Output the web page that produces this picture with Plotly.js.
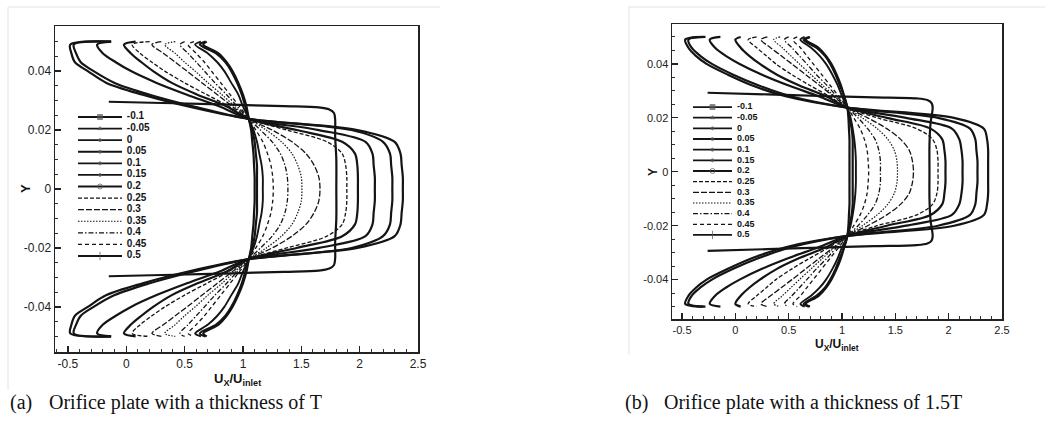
<!DOCTYPE html>
<html>
<head>
<meta charset="utf-8">
<script src="https://cdn.plot.ly/plotly-3.0.1.min.js"></script>
<style>
  html, body { margin: 0; padding: 0; background: #fff; }
  #chart { width: 1061px; height: 423px; }
</style>
</head>
<body>
<div id="chart"></div>
<script>
// Axial velocity profiles U_X/U_inlet across the pipe (Y) at several stations.
const SERIES_NAMES = ['-0.1', '-0.05', '0', '0.05', '0.1', '0.15', '0.2', '0.25', '0.3', '0.35', '0.4', '0.45', '0.5'];

const X_TICKS = [-0.5, 0, 0.5, 1, 1.5, 2, 2.5];
const X_TICK_TEXT = ['-0.5', '0', '0.5', '1', '1.5', '2', '2.5'];
const Y_TICKS = [-0.04, -0.02, 0, 0.02, 0.04];
const Y_TICK_TEXT = ['-0.04', '-0.02', '0', '0.02', '0.04'];

// Sampling positions across the pipe (shared by all full-width profiles)
const Y_GRID = [0.05, 0.049, 0.046, 0.043, 0.04, 0.036, 0.032, 0.028, 0.0238, 0.02, 0.016, 0.012, 0.008, 0.004, 0,
  -0.004, -0.008, -0.012, -0.016, -0.02, -0.0238, -0.028, -0.032, -0.036, -0.04, -0.043, -0.046, -0.049, -0.05];

// ---- (a) plate thickness T ----
const A_N010 = [0.69,0.66,0.79,0.86,0.91,0.96,1.0,1.03,1.05,1.07,1.08,1.09,1.095,1.1,1.1,1.1,1.095,1.09,1.08,1.07,1.05,1.03,1.0,0.96,0.91,0.86,0.79,0.66,0.69];
const A_N005 = [0.68,0.63,0.77,0.85,0.9,0.95,0.99,1.02,1.05,1.08,1.1,1.11,1.12,1.12,1.12,1.12,1.12,1.11,1.1,1.08,1.05,1.02,0.99,0.95,0.9,0.85,0.77,0.63,0.68];
const A_PLUG_Y = [0.0296,0.0291,0.0286,0.0281,0.0277,0.027,0.0258,0.0235,0.018,0.01,0,-0.01,-0.018,-0.0235,-0.0258,-0.027,-0.0277,-0.0281,-0.0286,-0.0291,-0.0296];
const A_P000 = [-0.15,0.4,0.9,1.35,1.65,1.74,1.78,1.79,1.79,1.8,1.8,1.8,1.79,1.79,1.78,1.74,1.65,1.35,0.9,0.4,-0.15];
const A_P005 = [-0.13,-0.48,-0.47,-0.44,-0.33,-0.17,0.14,0.53,1.05,1.98,2.3,2.35,2.36,2.37,2.37,2.37,2.36,2.35,2.3,1.98,1.05,0.53,0.14,-0.17,-0.33,-0.44,-0.47,-0.48,-0.13];
const A_P010 = [-0.13,-0.45,-0.43,-0.39,-0.28,-0.1,0.2,0.58,1.05,1.93,2.2,2.26,2.27,2.28,2.28,2.28,2.27,2.26,2.2,1.93,1.05,0.58,0.2,-0.1,-0.28,-0.39,-0.43,-0.45,-0.13];
const A_P015 = [-0.13,-0.25,-0.2,-0.09,0.04,0.26,0.52,0.8,1.05,1.65,2.05,2.11,2.12,2.13,2.13,2.13,2.12,2.11,2.05,1.65,1.05,0.8,0.52,0.26,0.04,-0.09,-0.2,-0.25,-0.13];
const A_P020 = [0.08,-0.02,0.04,0.13,0.23,0.39,0.61,0.86,1.05,1.46,1.85,1.96,1.98,1.985,1.985,1.985,1.98,1.96,1.85,1.46,1.05,0.86,0.61,0.39,0.23,0.13,0.04,-0.02,0.08];
const A_P025 = [0.2,0.05,0.12,0.22,0.33,0.5,0.69,0.88,1.05,1.375,1.72,1.85,1.88,1.89,1.89,1.89,1.88,1.85,1.72,1.375,1.05,0.88,0.69,0.5,0.33,0.22,0.12,0.05,0.2];
const A_P030 = [0.3,0.22,0.32,0.42,0.52,0.65,0.78,0.91,1.05,1.25,1.42,1.54,1.61,1.65,1.66,1.65,1.61,1.54,1.42,1.25,1.05,0.91,0.78,0.65,0.52,0.42,0.32,0.22,0.3];
const A_P035 = [0.42,0.33,0.42,0.5,0.59,0.7,0.82,0.93,1.05,1.2,1.33,1.42,1.47,1.5,1.505,1.5,1.47,1.42,1.33,1.2,1.05,0.93,0.82,0.7,0.59,0.5,0.42,0.33,0.42];
const A_P040 = [0.5,0.46,0.53,0.6,0.67,0.76,0.86,0.95,1.05,1.15,1.25,1.32,1.36,1.38,1.385,1.38,1.36,1.32,1.25,1.15,1.05,0.95,0.86,0.76,0.67,0.6,0.53,0.46,0.5];
const A_P045 = [0.58,0.53,0.6,0.67,0.73,0.81,0.89,0.97,1.05,1.11,1.17,1.21,1.24,1.255,1.26,1.255,1.24,1.21,1.17,1.11,1.05,0.97,0.89,0.81,0.73,0.67,0.6,0.53,0.58];
const A_P050 = [0.64,0.59,0.7,0.78,0.84,0.9,0.96,1.0,1.05,1.09,1.12,1.14,1.16,1.17,1.17,1.17,1.16,1.14,1.12,1.09,1.05,1.0,0.96,0.9,0.84,0.78,0.7,0.59,0.64];

// ---- (b) plate thickness 1.5T ----
const B_N010 = [0.7,0.66,0.78,0.85,0.9,0.95,0.99,1.02,1.05,1.06,1.065,1.07,1.07,1.07,1.07,1.07,1.07,1.07,1.065,1.06,1.05,1.02,0.99,0.95,0.9,0.85,0.78,0.66,0.7];
const B_N005 = [0.69,0.64,0.76,0.84,0.89,0.94,0.98,1.02,1.05,1.07,1.09,1.1,1.1,1.1,1.1,1.1,1.1,1.1,1.09,1.07,1.05,1.02,0.98,0.94,0.89,0.84,0.76,0.64,0.69];
const B_PLUG_Y = [0.0293,0.0287,0.0281,0.0276,0.0272,0.0266,0.0255,0.0238,0.018,0.01,0,-0.01,-0.018,-0.0238,-0.0255,-0.0266,-0.0272,-0.0276,-0.0281,-0.0287,-0.0293];
const B_P000 = [-0.26,0.3,0.8,1.3,1.7,1.8,1.84,1.85,1.83,1.82,1.82,1.82,1.83,1.85,1.84,1.8,1.7,1.3,0.8,0.3,-0.26];
const B_P005 = [-0.3,-0.47,-0.44,-0.37,-0.27,-0.07,0.16,0.47,1.05,2.05,2.33,2.36,2.37,2.37,2.37,2.37,2.37,2.36,2.33,2.05,1.05,0.47,0.16,-0.07,-0.27,-0.37,-0.44,-0.47,-0.3];
const B_P010 = [-0.28,-0.44,-0.41,-0.33,-0.22,-0.02,0.22,0.52,1.05,1.9,2.2,2.25,2.26,2.27,2.27,2.27,2.26,2.25,2.2,1.9,1.05,0.52,0.22,-0.02,-0.22,-0.33,-0.41,-0.44,-0.28];
const B_P015 = [-0.14,-0.24,-0.19,-0.09,0.04,0.25,0.5,0.78,1.05,1.6,2.03,2.1,2.12,2.13,2.13,2.13,2.12,2.1,2.03,1.6,1.05,0.78,0.5,0.25,0.04,-0.09,-0.19,-0.24,-0.14];
const B_P020 = [0.05,0,0.05,0.13,0.23,0.39,0.6,0.85,1.05,1.42,1.83,1.94,1.96,1.97,1.97,1.97,1.96,1.94,1.83,1.42,1.05,0.85,0.6,0.39,0.23,0.13,0.05,0,0.05];
const B_P025 = [0.2,0.12,0.2,0.29,0.38,0.53,0.7,0.88,1.05,1.33,1.7,1.85,1.89,1.9,1.9,1.9,1.89,1.85,1.7,1.33,1.05,0.88,0.7,0.53,0.38,0.29,0.2,0.12,0.2];
const B_P030 = [0.3,0.24,0.33,0.43,0.53,0.66,0.79,0.92,1.05,1.24,1.42,1.55,1.63,1.66,1.67,1.66,1.63,1.55,1.42,1.24,1.05,0.92,0.79,0.66,0.53,0.43,0.33,0.24,0.3];
const B_P035 = [0.42,0.36,0.44,0.52,0.6,0.71,0.82,0.93,1.05,1.19,1.33,1.43,1.49,1.515,1.52,1.515,1.49,1.43,1.33,1.19,1.05,0.93,0.82,0.71,0.6,0.52,0.44,0.36,0.42];
const B_P040 = [0.5,0.46,0.53,0.6,0.67,0.76,0.86,0.95,1.05,1.15,1.24,1.31,1.345,1.36,1.36,1.36,1.345,1.31,1.24,1.15,1.05,0.95,0.86,0.76,0.67,0.6,0.53,0.46,0.5];
const B_P045 = [0.58,0.54,0.61,0.67,0.73,0.81,0.89,0.97,1.05,1.11,1.17,1.21,1.235,1.245,1.25,1.245,1.235,1.21,1.17,1.11,1.05,0.97,0.89,0.81,0.73,0.67,0.61,0.54,0.58];
const B_P050 = [0.65,0.61,0.71,0.79,0.85,0.91,0.96,1.0,1.05,1.08,1.1,1.115,1.125,1.13,1.13,1.13,1.125,1.115,1.1,1.08,1.05,1.0,0.96,0.91,0.85,0.79,0.71,0.61,0.65];

const CAPTION_A = ['(a)', 'Orifice plate with a thickness of T'];
const CAPTION_B = ['(b)', 'Orifice plate with a thickness of 1.5T'];

// ---- drawing ----
const W = 1061, H = 423;
const px = v => v / W;            // horizontal pixel -> paper
const py = v => 1 - v / H;        // vertical pixel (from top) -> paper

const INK = '#141414';
const STYLES = [
  { dash: 'solid', width: 2.2, symbol: 'square', msize: 5 },
  { dash: 'solid', width: 2.2, symbol: 'triangle-up', msize: 4 },
  { dash: 'solid', width: 2.2, symbol: 'circle', msize: 3 },
  { dash: 'solid', width: 2.2, symbol: 'circle', msize: 3 },
  { dash: 'solid', width: 2.2, symbol: 'circle', msize: 3 },
  { dash: 'solid', width: 2.2, symbol: 'circle', msize: 3 },
  { dash: 'solid', width: 2.2, symbol: 'circle-open', msize: 5 },
  { dash: '4px,2px', width: 1.3 },
  { dash: '6px,2px', width: 1.3 },
  { dash: '1.5px,1.5px', width: 1.2 },
  { dash: '5px,2px,1.5px,2px', width: 1.3 },
  { dash: '4px,3px', width: 1.3 },
  { dash: 'solid', width: 1.9, symbol: 'line-ns', msize: 6 }
];

function panelTraces(xa, ya, profiles, plugY) {
  return profiles.map((xs, i) => ({
    type: 'scatter', mode: 'lines', xaxis: xa, yaxis: ya,
    x: xs, y: i === 2 ? plugY : Y_GRID,
    line: { color: INK, width: STYLES[i].width, dash: STYLES[i].dash, shape: 'spline', smoothing: 0.9 },
    showlegend: false, hoverinfo: 'skip'
  }));
}

function keyTraces(xa, ya, fontSize, textX) {
  const out = SERIES_NAMES.map((n, i) => {
    const s = STYLES[i];
    const t = {
      type: 'scatter', mode: 'lines', xaxis: xa, yaxis: ya,
      x: [0, 0.5, 1], y: [i, i, i],
      line: { color: INK, width: Math.min(s.width, 1.8), dash: s.dash },
      showlegend: false, hoverinfo: 'skip', cliponaxis: false
    };
    if (s.symbol) {
      t.mode = 'lines+markers';
      t.marker = { symbol: s.symbol, size: [0, s.msize, 0], color: '#555', line: { color: '#555', width: 1 } };
    }
    return t;
  });
  out.push({
    type: 'scatter', mode: 'text', xaxis: xa, yaxis: ya,
    x: SERIES_NAMES.map(() => textX), y: SERIES_NAMES.map((n, i) => i),
    text: SERIES_NAMES.map(n => '<b>' + n + '</b>'),
    textposition: 'middle right',
    textfont: { family: 'Liberation Sans, Arial, sans-serif', size: fontSize, color: INK },
    showlegend: false, hoverinfo: 'skip', cliponaxis: false
  });
  return out;
}

const profilesA = [A_N010, A_N005, A_P000, A_P005, A_P010, A_P015, A_P020, A_P025, A_P030, A_P035, A_P040, A_P045, A_P050];
const profilesB = [B_N010, B_N005, B_P000, B_P005, B_P010, B_P015, B_P020, B_P025, B_P030, B_P035, B_P040, B_P045, B_P050];

const data = []
  .concat(panelTraces('x', 'y', profilesA, A_PLUG_Y))
  .concat(panelTraces('x2', 'y2', profilesB, B_PLUG_Y))
  .concat(keyTraces('x3', 'y3', 10, 1.11))
  .concat(keyTraces('x4', 'y4', 9, 1.13));

function xAxis(domain, range, anchor, fs) {
  return {
    domain, range, anchor, tickmode: 'array', tickvals: X_TICKS, ticktext: X_TICK_TEXT,
    ticks: 'inside', ticklen: 6, tickwidth: 1.3, tickcolor: '#222',
    minor: { tickmode: 'linear', tick0: 0, dtick: 0.1, ticks: 'inside', ticklen: 3, tickwidth: 1, tickcolor: '#333', showgrid: false },
    showline: true, mirror: true, linecolor: '#222', linewidth: 1.5,
    showgrid: false, zeroline: false, fixedrange: true,
    tickfont: { family: 'Liberation Sans, Arial, sans-serif', size: fs, color: '#222' }
  };
}
function yAxis(domain, range, anchor, fs) {
  return {
    domain, range, anchor, tickmode: 'array', tickvals: Y_TICKS, ticktext: Y_TICK_TEXT,
    ticks: 'inside', ticklen: 6, tickwidth: 1.3, tickcolor: '#222',
    minor: { tickmode: 'linear', tick0: 0, dtick: 0.005, ticks: 'inside', ticklen: 3, tickwidth: 1, tickcolor: '#333', showgrid: false },
    showline: true, mirror: true, linecolor: '#222', linewidth: 1.5,
    showgrid: false, zeroline: false, fixedrange: true,
    tickfont: { family: 'Liberation Sans, Arial, sans-serif', size: fs, color: '#222' }
  };
}
function hidden(domain, range, anchor) {
  return { domain, range, anchor, visible: false, fixedrange: true, showgrid: false, zeroline: false };
}

const titleFont = s => ({ family: 'Liberation Sans, Arial, sans-serif', size: s, color: '#111' });
const capFont = { family: 'Liberation Serif, Times New Roman, serif', size: 20, color: '#111' };
const note = (text, x, y, font, extra) => Object.assign({
  text, x: px(x), y: py(y), xref: 'paper', yref: 'paper', xanchor: 'center', yanchor: 'middle',
  showarrow: false, font
}, extra || {});

const annotations = [
  note('<b>Y</b>', 25, 189, titleFont(13), { textangle: -90 }),
  note('<b>U<sub>X</sub>/U<sub>inlet</sub></b>', 237, 379, titleFont(13)),
  note('<b>Y</b>', 653, 172, titleFont(12), { textangle: -90 }),
  note('<b>U<sub>X</sub>/U<sub>inlet</sub></b>', 837, 345, titleFont(12)),
  note(CAPTION_A[0], 8, 402, capFont, { xanchor: 'left' }),
  note(CAPTION_A[1], 47, 402, capFont, { xanchor: 'left' }),
  note(CAPTION_B[0], 623, 402, capFont, { xanchor: 'left' }),
  note(CAPTION_B[1], 662, 402, capFont, { xanchor: 'left' })
];

// faint frame edges around each sub-figure
const edge = '#e4e4e4';
const shapes = [
  { type: 'line', xref: 'paper', yref: 'paper', x0: px(8), x1: px(440), y0: py(7), y1: py(7), line: { color: edge, width: 1 } },
  { type: 'line', xref: 'paper', yref: 'paper', x0: px(8), x1: px(8), y0: py(7), y1: py(390), line: { color: edge, width: 1 } },
  { type: 'line', xref: 'paper', yref: 'paper', x0: px(629), x1: px(1045), y0: py(7), y1: py(7), line: { color: edge, width: 1 } },
  { type: 'line', xref: 'paper', yref: 'paper', x0: px(629), x1: px(629), y0: py(7), y1: py(355), line: { color: edge, width: 1 } }
];

const layout = {
  width: W, height: H, margin: { l: 0, r: 0, t: 0, b: 0 },
  paper_bgcolor: '#fff', plot_bgcolor: 'rgba(0,0,0,0)', showlegend: false,
  xaxis: xAxis([px(55), px(418)], [-0.611, 2.5], 'y', 12),
  yaxis: yAxis([py(352), py(26)], [-0.0553, 0.0553], 'x', 12),
  xaxis2: xAxis([px(672), px(1002)], [-0.594, 2.5], 'y2', 11),
  yaxis2: yAxis([py(319), py(24)], [-0.0546, 0.0548], 'x2', 11),
  // key areas: sample line spans 0..1, labels sit just to its right
  xaxis3: hidden([px(78), px(160)], [0, 82 / 44], 'y3'),
  yaxis3: hidden([py(261.8), py(111.2)], [12.5, -0.5], 'x3'),
  xaxis4: hidden([px(693), px(770)], [0, 77 / 39], 'y4'),
  yaxis4: hidden([py(240.3), py(101.7)], [12.5, -0.5], 'x4'),
  annotations, shapes
};

Plotly.newPlot('chart', data, layout, { staticPlot: true, displayModeBar: false });
</script>
</body>
</html>
